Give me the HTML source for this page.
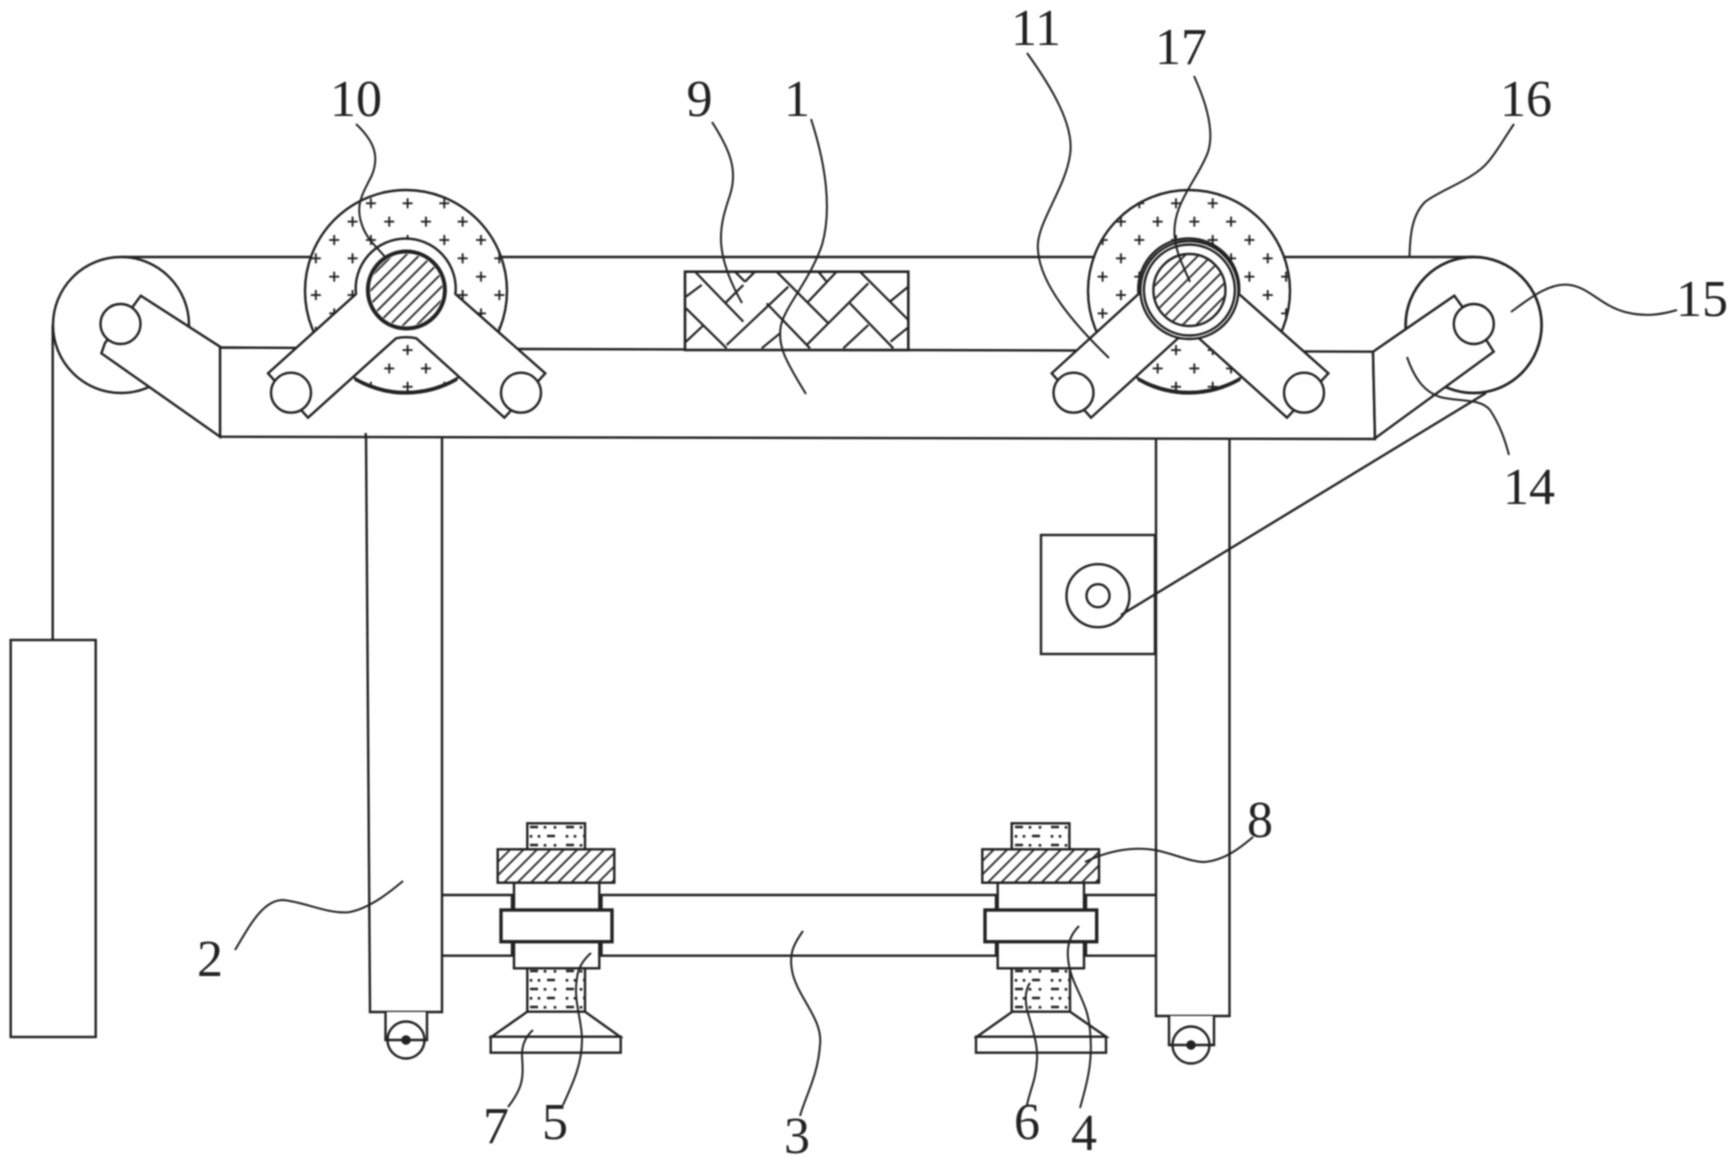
<!DOCTYPE html>
<html><head><meta charset="utf-8"><style>
html,body{margin:0;padding:0;background:#fff}
svg{display:block;filter:blur(.8px)}
text{font-family:"Liberation Serif",serif;font-size:52px;fill:#222;text-anchor:middle;stroke:none}
</style></head><body>
<svg width="1736" height="1163" viewBox="0 0 1736 1163" xmlns="http://www.w3.org/2000/svg">
<defs>
<pattern id="hs" patternUnits="userSpaceOnUse" width="9.5" height="9.5" patternTransform="rotate(45)"><line x1="2" y1="0" x2="2" y2="9.5" stroke="#222" stroke-width="1.8"/></pattern>
<pattern id="pl" patternUnits="userSpaceOnUse" x="398.6" y="194.3" width="36.7" height="36.7"><path d="M4 9h10M9 4v10M22.35 27.35h10M27.35 22.35v10" stroke="#222" stroke-width="1.9" fill="none"/></pattern>
<pattern id="pr" patternUnits="userSpaceOnUse" x="1167" y="194.3" width="36.7" height="36.7"><path d="M4 9h10M9 4v10M22.35 27.35h10M27.35 22.35v10" stroke="#222" stroke-width="1.9" fill="none"/></pattern>
<pattern id="sd" patternUnits="userSpaceOnUse" x="527" y="823" width="36" height="18"><path d="M3 4h8M18 3v2.6M28 3v2.6M4 12v2.6M12 12v2.6M20 13h8" stroke="#222" stroke-width="2.6" fill="none"/></pattern>
<pattern id="sd2" patternUnits="userSpaceOnUse" x="1012" y="823" width="36" height="18"><path d="M3 4h8M18 3v2.6M28 3v2.6M4 12v2.6M12 12v2.6M20 13h8" stroke="#222" stroke-width="2.6" fill="none"/></pattern>
</defs>
<g fill="#fff" stroke="#222" stroke-width="2.4" stroke-linejoin="miter">
<!-- rope & weight -->
<path d="M52.7 325V640" fill="none"/>
<rect x="10.7" y="640" width="85" height="397"/>
<!-- belt -->
<path d="M121 257H1474" fill="none"/>
<!-- pulleys -->
<circle cx="121" cy="325" r="68"/>
<circle cx="1473.6" cy="325" r="68" stroke-width="2.7"/>
<!-- legs -->
<path d="M366 433L370 1012H442V438"/>
<path d="M1156 439V1016H1229.5V439"/>
<path d="M385.5 1012V1040H427V1012"/>
<circle cx="406" cy="1040" r="18.5"/><path d="M385.5 1040H427" fill="none"/><circle cx="406" cy="1040" r="3.6" fill="#222"/>
<path d="M1169 1016V1045H1214V1016"/>
<circle cx="1191" cy="1045" r="18.5"/><path d="M1169 1045H1214" fill="none"/><circle cx="1191" cy="1045" r="3.6" fill="#222"/>
<!-- motor -->
<rect x="1041" y="535" width="114" height="119"/>
<circle cx="1098" cy="595.7" r="31.5"/>
<circle cx="1098" cy="595.7" r="11.5"/>
<path d="M1121 615L1486 393" fill="none"/>
<!-- cross bar -->
<path d="M442 895H1155M442 955.7H1155" fill="none"/>
<!-- frame -->
<path d="M220 347.5L522 349L1072 350.5L1373 351.7L1375 439L220 436.7Z"/>
<path d="M365.7 433V438" fill="none"/>
<!-- side arms -->
<path d="M134 305L140.8 295.7L220 346.7V436.7L101.4 353.3L105 343Z"/>
<circle cx="120.5" cy="324" r="20"/>
<path d="M1373 351.7L1454.3 295.7L1461 305L1488 342.7L1493.7 351.7L1375 438.3Z"/>
<circle cx="1473.8" cy="324" r="20"/>
<!-- left disc -->
<circle cx="406" cy="291" r="101"/>
<circle cx="406" cy="291" r="100" fill="url(#pl)" stroke="none"/>
<path d="M355 379A101 101 0 0 0 457 379" fill="none" stroke-width="3.6"/>
<path d="M356 294A50 50 0 1 1 455.4 294L545.3 373.3L504.4 417.7L416.4 338.3Q406 336 396 338.3L308 417.7L268 373.3Z"/>
<circle cx="406.4" cy="290" r="38.5" stroke-width="4"/>
<circle cx="406.4" cy="290" r="36" fill="url(#hs)" stroke="none"/>
<circle cx="291" cy="392.7" r="20"/>
<circle cx="521" cy="392.7" r="20"/>
<!-- right disc -->
<circle cx="1189" cy="291" r="101"/>
<circle cx="1189" cy="291" r="100" fill="url(#pr)" stroke="none"/>
<path d="M1138 379A101 101 0 0 0 1240 379" fill="none" stroke-width="3.6"/>
<path d="M1138.5 294A50.5 50.5 0 1 1 1239 294L1328.4 373.3L1287 417.7L1199 338.3Q1189 336 1178 338.3L1091 417.7L1051.7 373.3Z"/>
<circle cx="1189.4" cy="290" r="49"/>
<circle cx="1189.4" cy="290" r="45.5"/>
<circle cx="1189.4" cy="290" r="36" fill="#fff"/>
<circle cx="1189.4" cy="290" r="35" fill="url(#hs)" stroke="none"/>
<circle cx="1073.5" cy="392.7" r="20"/>
<circle cx="1304" cy="392.7" r="20"/>
<!-- herringbone -->
<rect x="685" y="271.7" width="223.3" height="78.3" stroke-width="2.6"/>
<g transform="translate(660,250) scale(.3333)" stroke-width="6.6" fill="none">
<path d="M105 65L250 215M78 175L200 295M78 140L125 105M78 275L128 228M195 160L250 105M225 65L255 95M255 95L285 65M200 285L385 110M320 160L450 295M350 65L505 220M445 155L530 65M475 65L500 95M440 285L625 100M600 65L745 210M570 160L700 295M690 155L745 110M692 275L745 232M550 295L625 225M305 295L360 250"/>
</g>
<!-- left clamp -->
<g>
<rect x="527.3" y="823.3" width="57.7" height="26.7"/><rect x="527.3" y="823.3" width="57.7" height="26.7" fill="url(#sd)" stroke="none"/>
<rect x="527.3" y="968.3" width="57.7" height="43.4"/><rect x="527.3" y="968.3" width="57.7" height="43.4" fill="url(#sd)" stroke="none"/>
<path d="M527.3 1011.7L491.7 1036.7H620L585 1011.7Z"/>
<rect x="490.7" y="1036.7" width="130" height="16"/>
<rect x="514" y="882.7" width="85.3" height="85.6"/>
<path d="M512 895V912M601.5 895V912M512 941V956M601.5 941V956" fill="none"/>
<rect x="501" y="910" width="111" height="31.7" stroke-width="3.4"/>
<rect x="497.7" y="849.3" width="116.6" height="33.4"/><rect x="497.7" y="849.3" width="116.6" height="33.4" fill="url(#hs)" stroke="none"/>
</g>
<!-- right clamp -->
<g>
<rect x="1011.7" y="823.3" width="57.7" height="26.7"/><rect x="1011.7" y="823.3" width="57.7" height="26.7" fill="url(#sd2)" stroke="none"/>
<rect x="1011.7" y="968.3" width="58.3" height="43.4"/><rect x="1011.7" y="968.3" width="58.3" height="43.4" fill="url(#sd2)" stroke="none"/>
<path d="M1012.3 1011.7L977 1036.7H1106L1070 1011.7Z"/>
<rect x="976" y="1036.7" width="130" height="16"/>
<rect x="997.7" y="882.7" width="86.3" height="85.6"/>
<path d="M996 895V912M1086 895V912M996 941V956M1086 941V956" fill="none"/>
<rect x="985" y="910" width="111.7" height="31.7" stroke-width="3.4"/>
<rect x="982.3" y="849.3" width="116.7" height="33.4"/><rect x="982.3" y="849.3" width="116.7" height="33.4" fill="url(#hs)" stroke="none"/>
</g>
</g>
<!-- leaders -->
<g fill="none" stroke="#222" stroke-width="2">
<path d="M356 124C373 140 380 155 372 175C362 195 355 205 362 225C367 240 378 248 385 257"/>
<path d="M712 122C730 150 738 170 730 195C720 225 712 250 742 303"/>
<path d="M811 119C826 165 832 210 822 245C810 280 786 305 781 325C777 345 785 360 806 394"/>
<path d="M1027 53C1050 85 1075 125 1070 155C1065 190 1035 225 1038 250C1040 285 1075 325 1109 358"/>
<path d="M1194 76C1205 100 1215 130 1208 152C1198 180 1170 205 1175 240C1177 255 1185 270 1190 282"/>
<path d="M1514 124C1503 140 1498 150 1488 162C1473 180 1440 190 1425 202C1412 215 1410 235 1409.5 257"/>
<path d="M1511 312C1530 298 1550 282 1570 285C1590 288 1600 305 1625 312C1645 317 1660 315 1677 310"/>
<path d="M1407 357C1415 380 1425 392 1440 397C1460 402 1480 398 1490 410C1500 425 1505 440 1509 455"/>
<path d="M1085 862C1105 852 1130 846 1155 850C1175 854 1190 862 1205 862C1225 860 1240 848 1253 837"/>
<path d="M235 950C250 925 263 900 283 900C305 902 330 915 350 912C370 908 390 892 403 881"/>
<path d="M533 1030C525 1037 522 1045 522 1055C523 1075 525 1085 508 1107"/>
<path d="M591 953C583 960 578 968 577 978C573 1000 582 1020 582 1040C582 1065 572 1085 563 1105"/>
<path d="M803 931C793 945 788 955 793 975C800 1000 823 1020 820 1045C818 1075 806 1095 800 1116"/>
<path d="M1030 983C1025 990 1025 1000 1027 1010C1033 1030 1038 1045 1037 1060C1036 1080 1030 1090 1027 1105"/>
<path d="M1079 926C1070 935 1067 945 1068 958C1070 985 1088 1000 1090 1030C1093 1060 1088 1080 1080 1108"/>
</g>
<!-- labels -->
<text x="356" y="116">10</text>
<text x="699.5" y="116">9</text>
<text x="797" y="116">1</text>
<text x="1036" y="45">11</text>
<text x="1181" y="64">17</text>
<text x="1526" y="116">16</text>
<text x="1702" y="316">15</text>
<text x="1529" y="504">14</text>
<text x="1260" y="837">8</text>
<text x="210" y="976">2</text>
<text x="496" y="1143">7</text>
<text x="555" y="1139">5</text>
<text x="797" y="1153">3</text>
<text x="1027" y="1139">6</text>
<text x="1084" y="1150">4</text>
</svg>
</body></html>
